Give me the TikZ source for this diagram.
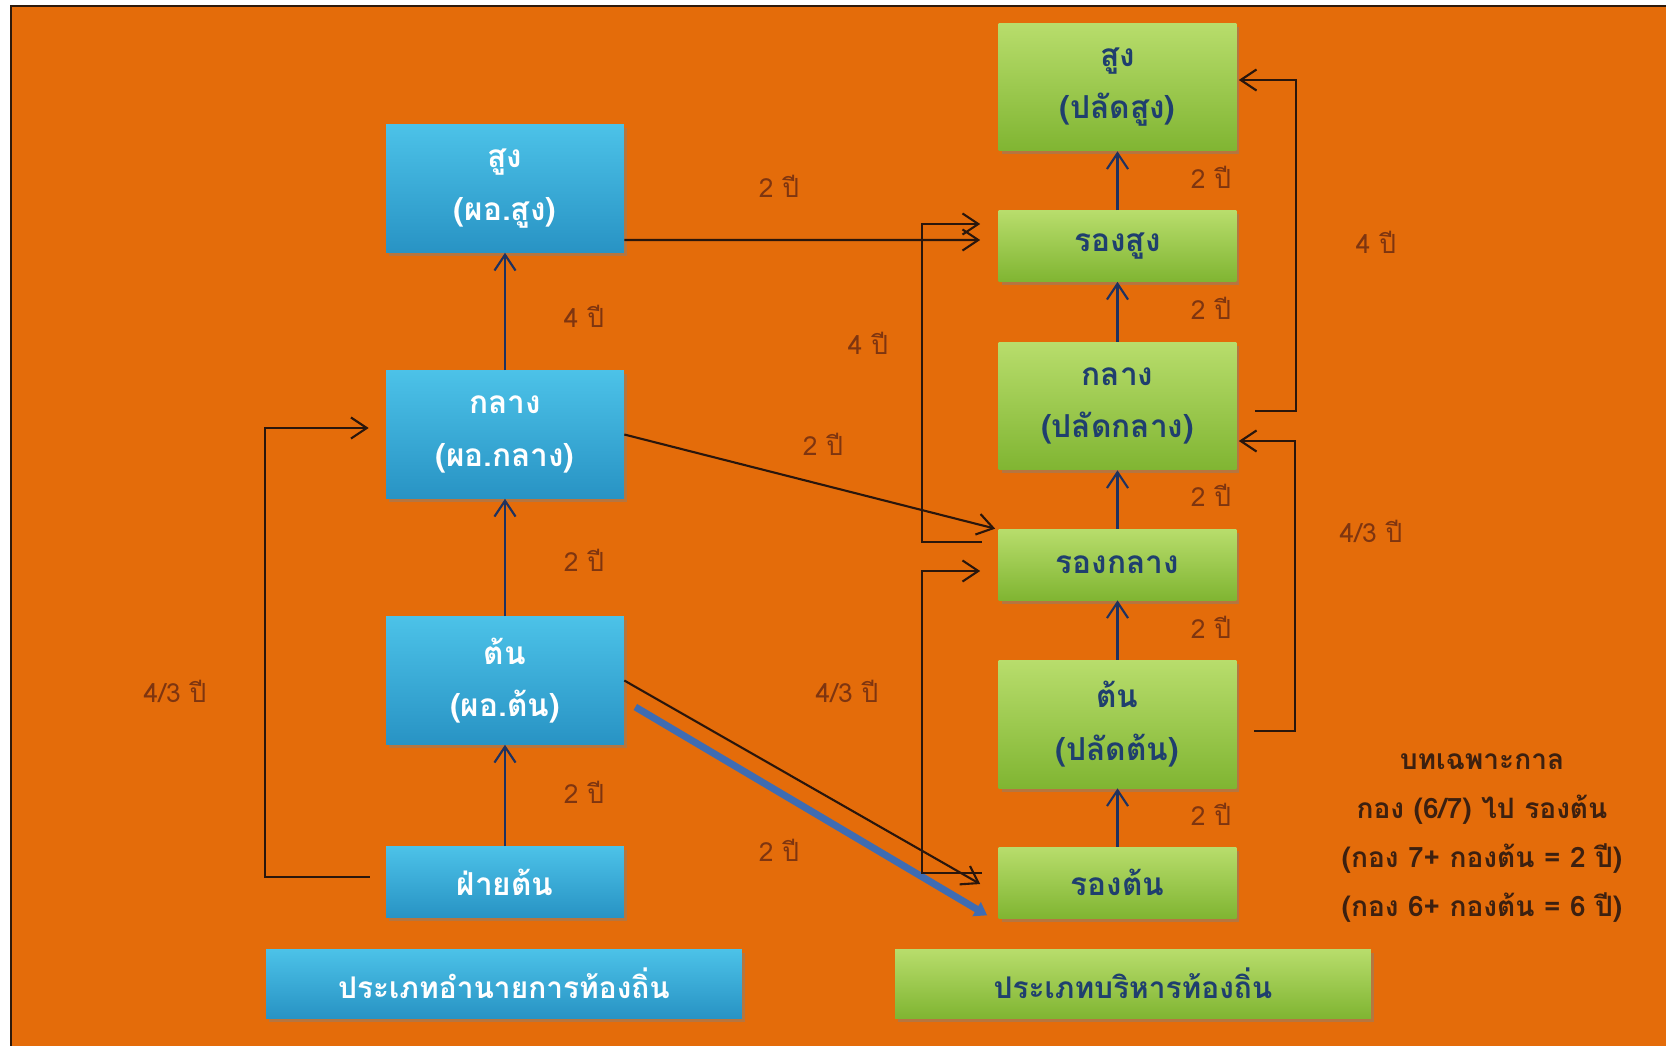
\documentclass[tikz,border=0pt]{standalone}
\usepackage{fontspec}
\setmainfont[Script=Thai]{Loma}
\usepackage{tikz}
\usetikzlibrary{arrows.meta,shadows}

\definecolor{bgorange}{HTML}{E46C0A}
\definecolor{frameline}{HTML}{2E1A0C}
\definecolor{bluetop}{HTML}{4CC2E8}
\definecolor{bluebot}{HTML}{2893C4}
\definecolor{greentop}{HTML}{B8DD6C}
\definecolor{greenbot}{HTML}{80B532}
\definecolor{greentext}{HTML}{1F3F6E}
\definecolor{linkline}{HTML}{2A160C}
\definecolor{stepline}{HTML}{1F3260}
\definecolor{yearbrown}{HTML}{7E3510}
\definecolor{notebrown}{HTML}{3C2010}
\definecolor{fastblue}{HTML}{3F6CB2}

\tikzset{
  rankbox/.style={rectangle, inner sep=0pt, align=center,
    font=\bfseries\fontsize{18}{30}\selectfont,
    drop shadow={shadow xshift=0.06cm, shadow yshift=-0.07cm, opacity=0.45}},
  bluebox/.style={rankbox, top color=bluetop, bottom color=bluebot, text=white},
  greenbox/.style={rankbox, top color=greentop, bottom color=greenbot, text=greentext},
  tallbox/.style={minimum width=4.76cm, minimum height=2.56cm},
  shortbox/.style={minimum width=4.76cm, minimum height=1.42cm},
  typebox/.style={minimum width=9.52cm, minimum height=1.38cm,
    font=\bfseries\fontsize{17}{20}\selectfont},
  steparrow/.style={draw=stepline, line width=1.2pt, -{Straight Barb[length=9pt,width=12pt]}},
  linkarrow/.style={draw=linkline, line width=1.2pt, -{Straight Barb[length=9pt,width=12pt]}},
  yearlabel/.style={text=yearbrown, font=\fontsize{15}{17}\selectfont},
  notetext/.style={text=notebrown, align=center, font=\bfseries\fontsize{16}{28}\selectfont}
}

\begin{document}
\begin{tikzpicture}[x=0.02cm, y=-0.02cm]
      \useasboundingbox (0,0) rectangle (1666,1045);
      \clip (0,0) rectangle (1666,1045);
      \fill[white] (0,0) rectangle (1666,1045);
      \draw[frameline, line width=1.5pt, fill=bgorange] (11,6) rectangle (1700,1080);

      % local director track
      \node[bluebox, tallbox] (dirHigh) at (505,188.5) {สูง\\(ผอ.สูง)};
      \node[bluebox, tallbox] (dirMid) at (505,434.5) {กลาง\\(ผอ.กลาง)};
      \node[bluebox, tallbox] (dirLow) at (505,680.5) {ต้น\\(ผอ.ต้น)};
      \node[bluebox, shortbox] (dirDept) at (505,882) {ฝ่ายต้น};
      \node[bluebox, typebox] (dirType) at (504,983.5) {ประเภทอำนายการท้องถิ่น};

      % local executive track
      \node[greenbox, tallbox] (exeHigh) at (1117.5,87) {สูง\\(ปลัดสูง)};
      \node[greenbox, shortbox] (exeDepHigh) at (1117.5,246) {รองสูง};
      \node[greenbox, tallbox] (exeMid) at (1117.5,406) {กลาง\\(ปลัดกลาง)};
      \node[greenbox, shortbox] (exeDepMid) at (1117.5,564.5) {รองกลาง};
      \node[greenbox, tallbox] (exeLow) at (1117.5,724) {ต้น\\(ปลัดต้น)};
      \node[greenbox, shortbox] (exeDepLow) at (1117.5,882.5) {รองต้น};
      \node[greenbox, typebox] (exeType) at (1133,983.5) {ประเภทบริหารท้องถิ่น};

      % steps inside each track
      \draw[steparrow] (dirMid) -- (dirHigh);
      \draw[steparrow] (dirLow) -- (dirMid);
      \draw[steparrow] (dirDept) -- (dirLow);
      \draw[steparrow] (exeDepLow) -- (exeLow);
      \draw[steparrow] (exeLow) -- (exeDepMid);
      \draw[steparrow] (exeDepMid) -- (exeMid);
      \draw[steparrow] (exeMid) -- (exeDepHigh);
      \draw[steparrow] (exeDepHigh) -- (exeHigh);

      % jumps
      \draw[linkarrow] ([xshift=-0.32cm,yshift=0.1cm]dirDept.west) -- ++(-2.1cm,0)
        |- ([xshift=-0.34cm,yshift=0.13cm]dirMid.west);
      \draw[linkarrow] ([yshift=-1.03cm]dirHigh.east) -- ([xshift=-0.36cm,yshift=0.12cm]exeDepHigh.west);
      \draw[linkarrow] (dirMid.east) -- ([xshift=-0.06cm]exeDepMid.north west);
      \draw[linkarrow] (dirLow.east) -- ([xshift=-0.36cm,yshift=-0.03cm]exeDepLow.west);
      \draw[fastblue, line width=4pt, -{Triangle[length=7pt,width=9pt]}]
        ([shift={(0.22cm,-0.53cm)}]dirLow.east) -- ([shift={(-0.22cm,0.06cm)}]exeDepLow.south west);
      \draw[linkarrow] ([xshift=-0.32cm,yshift=0.45cm]exeDepMid.west) -- ++(-1.2cm,0)
        |- ([xshift=-0.36cm,yshift=0.44cm]exeDepHigh.west);
      \draw[linkarrow] ([xshift=-0.32cm,yshift=0.19cm]exeDepLow.west) -- ++(-1.2cm,0)
        |- ([xshift=-0.36cm,yshift=-0.13cm]exeDepMid.west);
      \draw[linkarrow] ([xshift=0.36cm,yshift=-0.1cm]exeMid.east) -- ++(0.82cm,0)
        |- ([xshift=0.04cm,yshift=0.14cm]exeHigh.east);
      \draw[linkarrow] ([xshift=0.35cm,yshift=-0.14cm]exeLow.east) -- ++(0.82cm,0)
        |- ([xshift=0.04cm,yshift=-0.7cm]exeMid.east);

      % years
      \node[yearlabel] (yDirMid) at (584,316) {4 ปี};
      \node[yearlabel] (yDirLow) at (584,560) {2 ปี};
      \node[yearlabel] (yDirDept) at (584,792) {2 ปี};
      \node[yearlabel] (yDirJump) at (175,691) {4/3 ปี};
      \node[yearlabel] (yHighCross) at (779,186) {2 ปี};
      \node[yearlabel] (yExeDepMid) at (868,343) {4 ปี};
      \node[yearlabel] (yMidCross) at (823,444) {2 ปี};
      \node[yearlabel] (yExeDepLow) at (847,691) {4/3 ปี};
      \node[yearlabel] (yLowCross) at (779,850) {2 ปี};
      \node[yearlabel] (yExeHigh) at (1211,177) {2 ปี};
      \node[yearlabel] (yExeDepHigh) at (1211,308) {2 ปี};
      \node[yearlabel] (yExeMid) at (1211,495) {2 ปี};
      \node[yearlabel] (yExeDepMidUp) at (1211,627) {2 ปี};
      \node[yearlabel] (yExeLow) at (1211,814) {2 ปี};
      \node[yearlabel] (yExeMidJump) at (1376,242) {4 ปี};
      \node[yearlabel] (yExeLowJump) at (1371,531) {4/3 ปี};

      \node[notetext] (transNote) at (1482,838)
        {บทเฉพาะกาล\\กอง (6/7) ไป รองต้น\\(กอง 7+ กองต้น = 2 ปี)\\(กอง 6+ กองต้น = 6 ปี)};
\end{tikzpicture}
\end{document}
